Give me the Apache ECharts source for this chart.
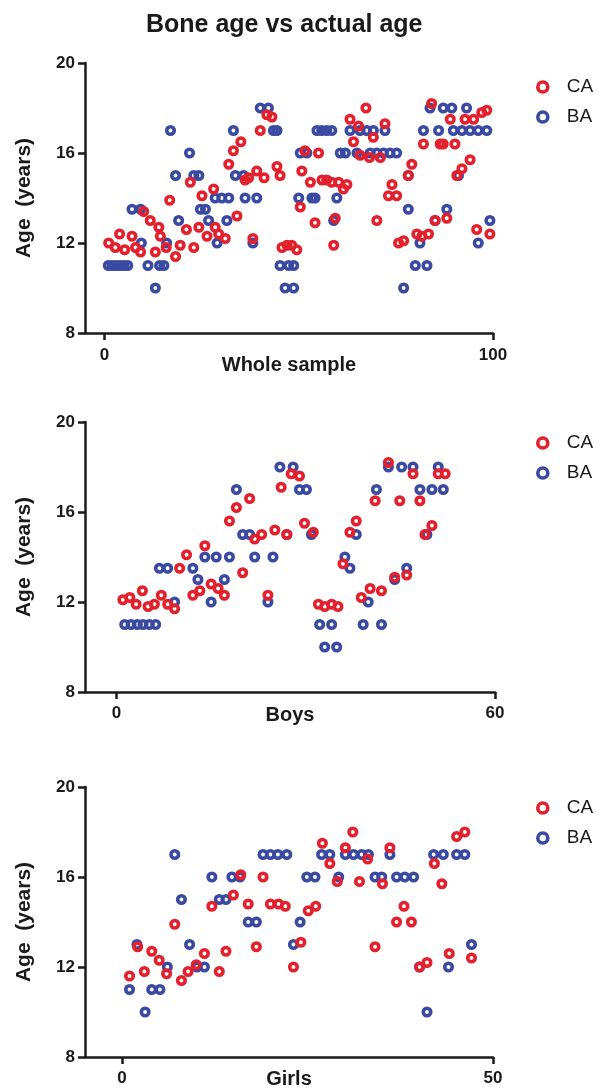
<!DOCTYPE html>
<html>
<head>
<meta charset="utf-8">
<script src="https://cdn.jsdelivr.net/npm/echarts@6/dist/echarts.min.js"></script>
<style>
html,body{margin:0;padding:0;background:#fff;}
#chart{width:603px;height:1092px;}
</style>
</head>
<body>
<div id="chart"></div>
<script>
// ---- data: [subject index, age in years] ----
const wholeCA = [[1.1,12.0],[2.8,11.8],[3.9,12.4],[5.2,11.7],[7.1,12.3],[8.0,11.8],[9.3,11.6],[10.1,13.4],[11.8,13.0],[13.1,11.6],[14.0,12.7],[14.4,12.3],[15.9,11.8],[16.8,13.9],[18.3,11.4],[19.5,11.9],[21.1,12.6],[22.1,14.7],[23.0,11.8],[24.3,12.7],[25.1,14.1],[26.4,12.3],[28.1,14.4],[28.5,12.7],[29.4,12.4],[31.1,12.2],[32.0,15.5],[33.2,16.1],[34.1,13.2],[35.1,16.5],[36.2,14.8],[37.1,14.9],[38.2,12.2],[39.2,15.2],[40.1,17.0],[41.1,14.9],[41.8,17.7],[43.1,17.6],[44.4,15.4],[45.2,15.0],[45.7,11.8],[47.0,11.9],[48.2,11.9],[49.5,11.7],[50.4,13.6],[50.8,15.2],[51.6,16.1],[53.0,14.7],[54.2,12.9],[55.1,16.0],[56.0,14.8],[57.2,14.8],[58.5,14.7],[59.0,11.9],[59.4,13.1],[60.3,14.7],[61.5,14.4],[62.4,14.6],[63.2,17.5],[64.1,16.5],[65.4,17.2],[65.8,15.9],[67.3,18.0],[68.2,15.8],[69.2,16.7],[70.1,13.0],[71.0,15.8],[72.2,17.3],[73.1,14.1],[74.0,14.6],[75.2,14.1],[75.7,12.0],[77.0,12.1],[78.2,15.0],[79.1,15.5],[80.4,12.4],[81.7,12.3],[82.1,16.4],[83.4,12.4],[84.2,18.2],[85.1,13.0],[86.4,16.4],[87.2,16.4],[88.1,13.1],[89.0,17.5],[90.2,16.4],[90.7,15.0],[92.0,15.3],[92.8,17.5],[94.1,15.7],[95.0,17.5],[95.8,12.6],[97.1,17.8],[98.4,17.9],[99.2,12.4]];
const wholeBA = [[1,11],[2,11],[3,11],[4,11],[5,11],[6,11],[7.1,13.5],[9.3,13.5],[9.5,12],[11.2,11],[13.1,10],[14.2,11],[15.3,11],[16,12],[17,17],[18.3,15],[19.1,13],[21.9,16],[23,15],[24.3,15],[24.7,13.5],[26,13.5],[26.8,13],[28.5,14],[29,12],[30.2,14],[31.5,13],[32,14],[33.2,17],[33.7,15],[35.8,15],[36.2,14],[38.2,12],[39.2,14],[40.1,18],[42.2,18],[43.5,17],[44.4,17],[45.2,11],[46.5,10],[47.4,11],[48.7,11],[48.7,10],[50,14],[50.4,16],[52.1,16],[53.4,14],[54.2,14],[54.7,17],[55.9,17],[57.2,17],[58.5,17],[59,13],[59.8,14],[60.7,16],[62,16],[63.2,17],[65,16],[65.8,17],[67.5,17],[68.4,16],[69.2,17],[70.1,16],[71.8,16],[72.2,17],[73.5,16],[75.2,16],[77,10],[78.2,15],[78.2,13.5],[80,11],[81.2,12],[82.1,17],[83,11],[83.8,18],[85.1,13],[86,17],[87.2,18],[88.1,13.5],[89.4,18],[89.8,17],[91.1,15],[92,17],[93.2,18],[94.1,17],[96.2,12],[96.2,17],[98.4,17],[99.2,13]];
const boysCA = [[1,12.1],[2.1,12.2],[3.1,11.9],[4.1,12.5],[5,11.8],[6,11.9],[7.1,12.3],[8.1,11.9],[9.2,11.7],[10,13.5],[11.1,14.1],[12.1,12.3],[13.2,12.5],[14,14.5],[15,12.8],[16.1,12.6],[17.1,12.3],[17.9,15.6],[19,16.2],[20,13.3],[21.1,16.6],[21.9,14.8],[23,15],[24,12.3],[25.1,15.2],[26.1,17.1],[27,15],[27.7,17.7],[29,17.6],[29.8,15.5],[31.2,15.1],[32,11.9],[33,11.8],[34.1,11.9],[35.1,11.8],[35.9,13.7],[37,15.1],[38,15.6],[38.8,12.2],[40.2,12.6],[41,16.5],[42,12.5],[43.1,18.2],[44.1,13.1],[44.9,16.5],[46,13.2],[47,17.7],[48.1,16.5],[48.9,15],[50,15.4],[51,17.7],[52.1,17.7]];
const boysBA = [[1.3,11],[2.3,11],[3.3,11],[4.2,11],[5.2,11],[6.2,11],[6.8,13.5],[8.1,13.5],[9.2,12],[12.1,13.5],[12.9,13],[14,14],[15,12],[15.8,14],[17.1,13],[17.9,14],[19,17],[20,15],[21.1,15],[21.9,14],[24,12],[24.8,14],[25.9,18],[27,15],[28,18],[29,17],[30.1,17],[30.9,15],[32.2,11],[33,10],[34.1,11],[34.9,10],[36.2,14],[37,13.5],[38,15],[39.1,11],[39.9,12],[41.2,17],[42,11],[43.1,18],[44.1,13],[45.2,18],[46,13.5],[47,18],[48.1,17],[49.2,15],[50,17],[51,18],[51.8,17]];
const girlsCA = [[1,11.6],[2.1,12.9],[3,11.8],[4,12.7],[5,12.3],[6,11.7],[7.1,13.9],[8,11.4],[8.9,11.8],[10,12.1],[11.1,12.6],[12.1,14.7],[13.1,11.8],[14,12.7],[15,15.2],[16,16.1],[17,14.8],[18.1,12.9],[19,16],[20,14.8],[21.1,14.8],[22,14.7],[23.1,12],[24.1,13.1],[25.1,14.5],[26.1,14.7],[27,17.5],[28,16.6],[29,15.8],[30.1,17.3],[31.1,18],[32,15.8],[33.1,16.8],[34.1,12.9],[35.1,15.7],[36.1,17.3],[37,14],[38,14.7],[39,14],[40.1,12],[41.1,12.2],[42.1,16.6],[43.1,15.7],[44.1,12.6],[45.1,17.8],[46.2,18],[47.1,12.4]];
const girlsBA = [[1,11],[2,13],[3.1,10],[4,11],[5.1,11],[6.1,12],[7.1,17],[8,15],[9.1,13],[10.1,12],[11.1,12],[12.1,16],[13.1,15],[14,15],[14.8,16],[15.9,16],[17,14],[18.1,14],[19,17],[20,17],[21,17],[22.2,17],[23.1,13],[24,14],[24.9,16],[26,16],[26.9,17],[28,17],[29.2,16],[30.1,17],[31.2,17],[32.3,17],[33.2,17],[34.1,16],[35,16],[36.1,17],[37,16],[38.1,16],[39.3,16],[40.1,12],[41.1,10],[42,17],[43.3,17],[44,12],[45.1,17],[46.2,17],[47.1,13]];

const panelNames = ['Whole sample', 'Boys', 'Girls'];
const xMaxes = [100, 60, 50];
const xTickValues = [[0, 100], [0, 60], [0, 50]];
const yTicks = [8, 12, 16, 20];
const seriesNames = ['CA', 'BA'];
const titleText = 'Bone age vs actual age';

// ---- layout / style ----
const RED = '#e3202b';
const BLUE = '#3a4aa2';
const INK = '#1a1a1a';
const FONT = '"Liberation Sans", Arial, Helvetica, sans-serif';
const grids = [
  {left: 85, top: 63, width: 408, height: 270},
  {left: 85, top: 422, width: 410, height: 270},
  {left: 85, top: 787, width: 408, height: 270}
];
const labelMargins = [14, 13, 13];
const nameGaps = [22, 13, 12];
const legendTops = [72, 428, 793];
const caData = [wholeCA, boysCA, girlsCA];
const baData = [wholeBA, boysBA, girlsBA];

const option = {
  animation: false,
  backgroundColor: '#fff',
  textStyle: {fontFamily: FONT},
  title: {
    text: titleText, left: 146, top: 13, padding: 0,
    textStyle: {fontFamily: FONT, fontWeight: 'bold', fontSize: 25, color: INK}
  },
  grid: grids.map(g => Object.assign({containLabel: false}, g)),
  xAxis: grids.map((g, i) => ({
    type: 'value', gridIndex: i, min: -5, max: xMaxes[i],
    name: panelNames[i], nameLocation: 'middle', nameGap: nameGaps[i], nameMoveOverlap: false,
    nameTextStyle: {fontFamily: FONT, fontWeight: 'bold', fontSize: 20, color: INK},
    axisLine: {show: true, onZero: false, lineStyle: {color: INK, width: 2.5}},
    axisTick: {show: true, length: 7, lineStyle: {color: INK, width: 2.5}, customValues: xTickValues[i]},
    axisLabel: {show: true, margin: labelMargins[i], fontFamily: FONT, fontWeight: 'bold', fontSize: 17, color: INK, customValues: xTickValues[i]},
    splitLine: {show: false}
  })),
  yAxis: grids.map((g, i) => ({
    type: 'value', gridIndex: i, min: yTicks[0], max: yTicks[yTicks.length - 1], interval: 4,
    name: 'Age  (years)', nameLocation: 'middle', nameGap: 50, nameMoveOverlap: false,
    nameTextStyle: {fontFamily: FONT, fontWeight: 'bold', fontSize: 21, color: INK},
    axisLine: {show: true, onZero: false, lineStyle: {color: INK, width: 2.5}},
    axisTick: {show: true, length: 7, lineStyle: {color: INK, width: 2.5}},
    axisLabel: {show: true, margin: 10, fontFamily: FONT, fontWeight: 'bold', fontSize: 17, color: INK},
    splitLine: {show: false}
  })),
  legend: grids.map((g, i) => ({
    orient: 'vertical', left: 531, top: legendTops[i],
    itemWidth: 10, itemHeight: 10, itemGap: 10,
    textStyle: {fontFamily: FONT, fontSize: 19, color: INK, lineHeight: 20, padding: [0, 0, 0, 14]},
    selectedMode: false,
    data: [
      {name: seriesNames[0], icon: 'circle', itemStyle: {color: 'rgba(255,255,255,0)', borderColor: RED, borderWidth: 3.6, opacity: 1}},
      {name: seriesNames[1], icon: 'circle', itemStyle: {color: 'rgba(255,255,255,0)', borderColor: BLUE, borderWidth: 3.6, opacity: 1}}
    ]
  })),
  series: []
};

grids.forEach((g, i) => {
  option.series.push({
    name: seriesNames[1], type: 'scatter', xAxisIndex: i, yAxisIndex: i,
    data: baData[i], symbol: 'circle', symbolSize: 7.5, z: 2,
    itemStyle: {color: 'rgba(255,255,255,0)', borderColor: BLUE, borderWidth: 3.6, opacity: 1},
    emphasis: {disabled: true}
  });
  option.series.push({
    name: seriesNames[0], type: 'scatter', xAxisIndex: i, yAxisIndex: i,
    data: caData[i], symbol: 'circle', symbolSize: 7.5, z: 3,
    itemStyle: {color: 'rgba(255,255,255,0)', borderColor: RED, borderWidth: 3.6, opacity: 1},
    emphasis: {disabled: true}
  });
});

const chart = echarts.init(document.getElementById('chart'), null, {renderer: 'canvas'});
chart.setOption(option);
</script>
</body>
</html>
